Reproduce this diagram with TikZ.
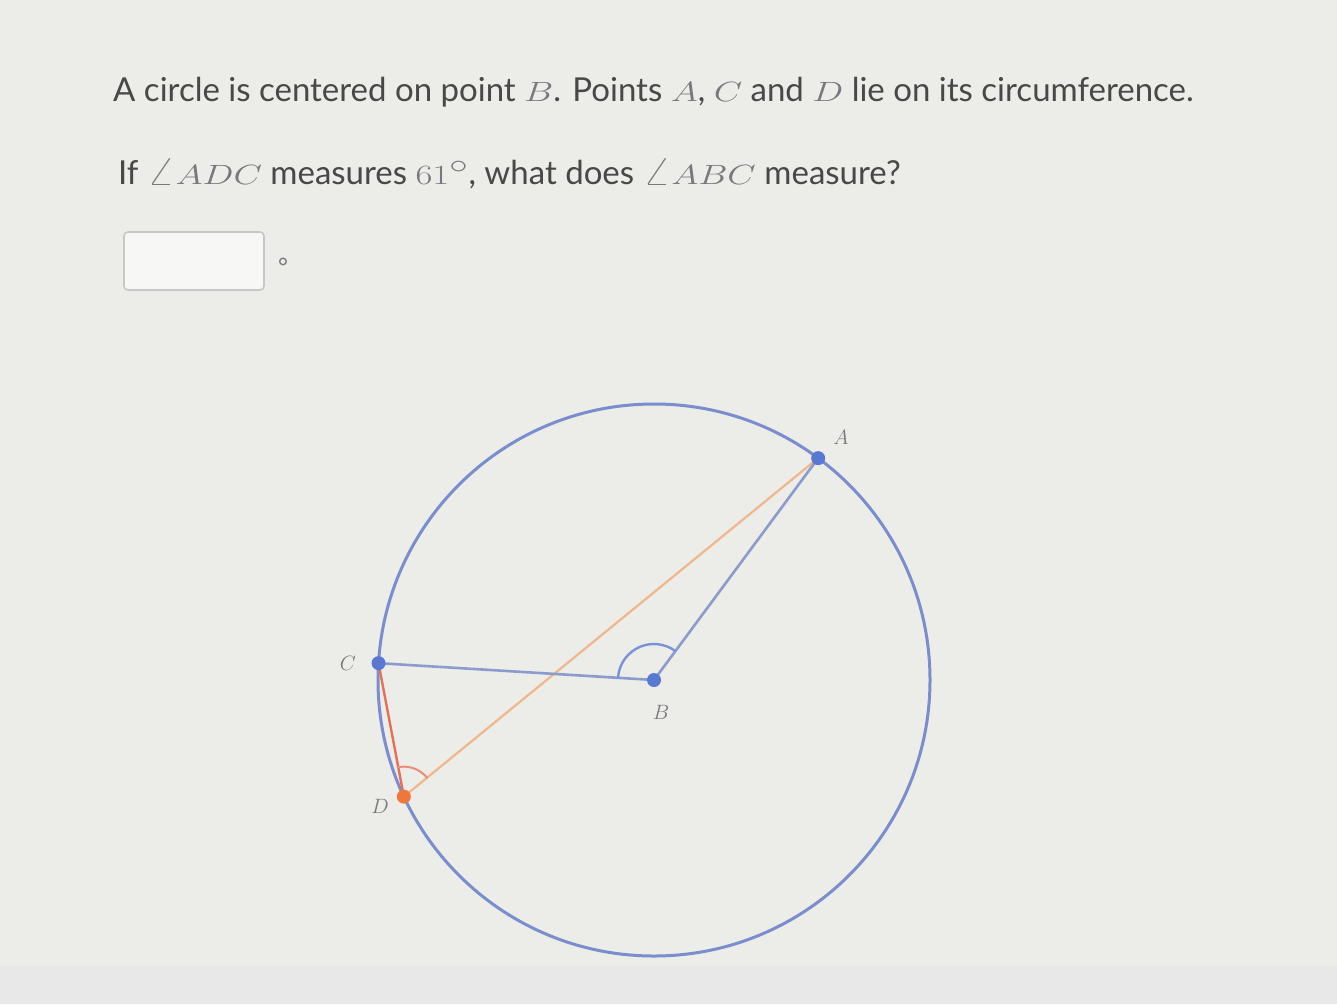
\documentclass[tikz,border=0pt]{standalone}
\usepackage{fontspec}
\usepackage{graphicx}
\setmainfont{Lato}
\usetikzlibrary{calc}
\definecolor{bgpage}{RGB}{236,236,232}
\definecolor{txtgrey}{RGB}{72,72,72}
\definecolor{mathgrey}{RGB}{120,120,125}
\definecolor{ringblue}{RGB}{122,142,205}
\definecolor{segblue}{RGB}{140,155,205}
\definecolor{dotblue}{RGB}{88,120,210}
\definecolor{segred}{RGB}{228,112,88}
\definecolor{segorange}{RGB}{240,182,140}
\definecolor{dotorange}{RGB}{238,120,60}
\newcommand{\mt}[1]{{\color{mathgrey}\scalebox{1.48}[1.12]{$#1$}}}
\begin{document}
\begin{tikzpicture}[x=1pt,y=1pt,line cap=round,
  every node/.style={inner sep=0pt},
  qtext/.style={anchor=base west,text=txtgrey,font=\fontsize{33}{36}\selectfont},
  ptlabel/.style={text=mathgrey,font=\fontsize{20}{22}\selectfont},
  ptdot/.style={fill=dotblue,draw=none}]
    \fill [bgpage] (0,0) rectangle (1337,-1004);
    \fill [black!9] (0,-966) rectangle (1337,-1004);
    % question text
    \node [qtext] (line1) at (113,-101) {A circle is centered on point \mt{B}. Points \mt{A}, \mt{C} and \mt{D} lie on its circumference.};
    \node [qtext] (line2) at (118,-184) {If \mt{\angle ADC} measures \mt{61^\circ}, what does \mt{\angle ABC} measure?};
    % answer box
    \draw [black!22,line width=1.6pt,fill=white!60!bgpage,rounded corners=4pt] (124,-232) rectangle (264,-290);
    \node [text=mathgrey,font=\fontsize{24}{26}\selectfont] (deg) at (283,-267) {°};
    % the circle and its points
    \coordinate (B) at (654,-680);
    \coordinate (A) at ($(B)+(53.5:276)$);
    \coordinate (C) at ($(B)+(176.5:276)$);
    \coordinate (D) at ($(B)+(205:276)$);
    \draw [ringblue,line width=3pt] (B) circle (276);
    \draw [segorange,line width=2.2pt] (D) -- (A);
    \draw [segblue,line width=2.6pt] (C) -- (B) -- (A);
    \draw [segred,line width=2.4pt] (C) -- (D);
    % angle marks
    \draw [dotblue!80,line width=2.4pt] ([shift={(176.5:36)}]B) arc (176.5:53.5:36);
    \draw [segred!80,line width=2pt] ([shift={(39.2:30)}]D) arc (39.2:100.8:30);
    \fill [ptdot] (A) circle (7);
    \fill [ptdot] (B) circle (7);
    \fill [ptdot] (C) circle (7);
    \fill [dotorange] (D) circle (7);
    \node [ptlabel] (lA) at (841,-437) {$A$};
    \node [ptlabel] (lB) at (661,-712) {$B$};
    \node [ptlabel] (lC) at (348,-663) {$C$};
    \node [ptlabel] (lD) at (380,-806) {$D$};
\end{tikzpicture}
\end{document}
